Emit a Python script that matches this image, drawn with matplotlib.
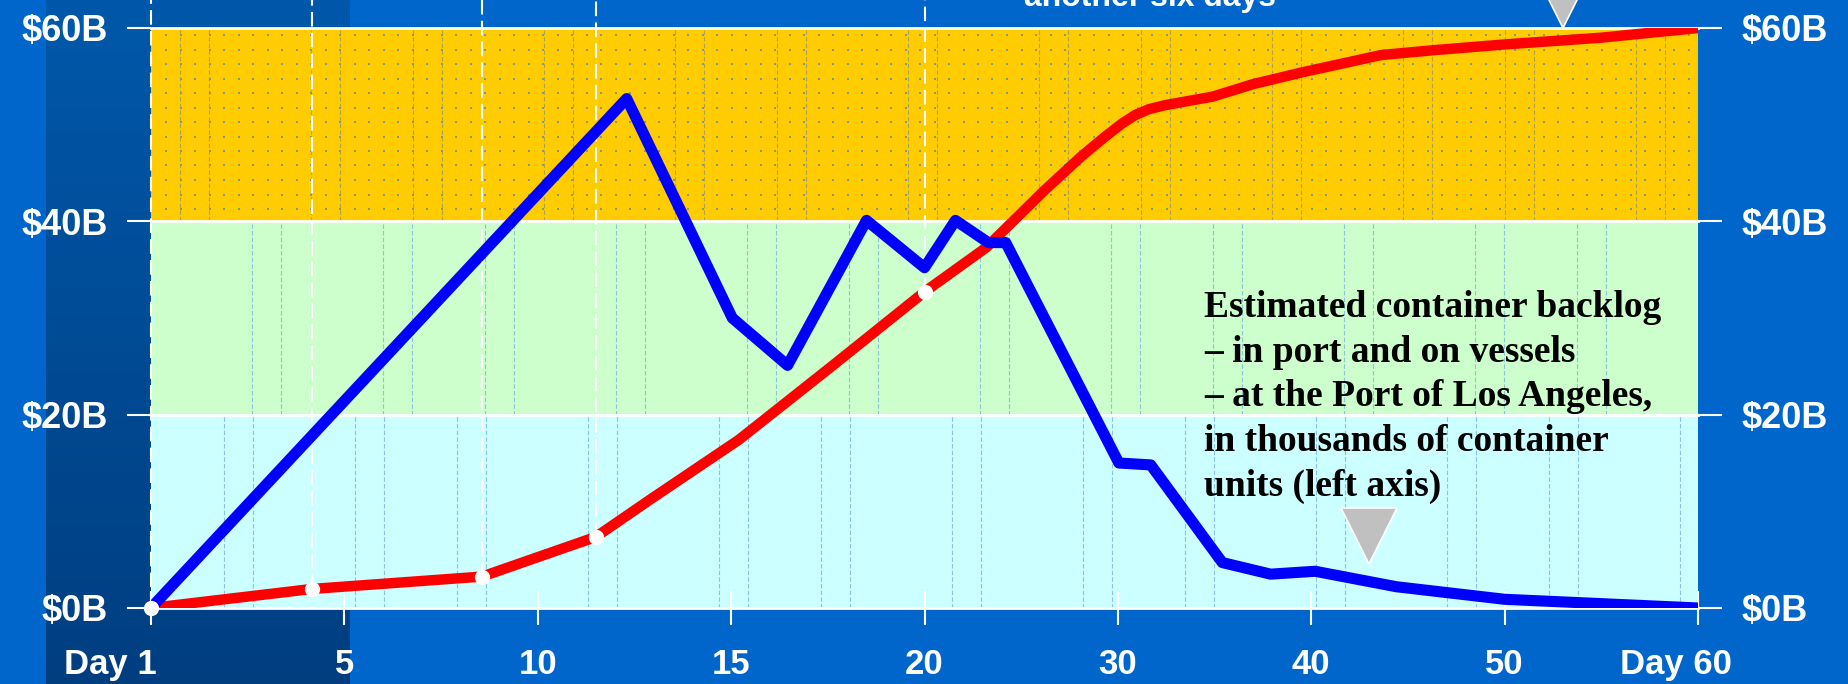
import numpy as np
import matplotlib
matplotlib.use("Agg")
import matplotlib.pyplot as plt
from matplotlib import transforms
from matplotlib.colors import LinearSegmentedColormap
from matplotlib.ticker import NullLocator

# x axis: ticks are evenly spaced although the day gaps are not
tick_days = [1, 5, 10, 15, 20, 30, 40, 50, 60]
tick_labels = ["Day 1", "5", "10", "15", "20", "30", "40", "50", "Day 60"]
tick_pos = np.arange(len(tick_days))

y_ticks = [0, 20, 40, 60]
y_labels = [r"\$0B", r"\$20B", r"\$40B", r"\$60B"]

# cumulative cost ($B), red line
cost_day = [1, 4.33, 8.56, 11.5, 12.9, 15.2, 17.6, 20.0, 23.2, 26.2, 28.1, 29.3,
            30.2, 30.9, 31.6, 32.4, 33.5, 34.9, 37.0, 39.5, 43.6, 46.3, 50, 55, 60]
cost_bn = [0, 1.97, 3.25, 7.35, 11.2, 17.4, 25.0, 32.7, 37.3, 43.2, 46.7, 48.7,
           50.1, 51.0, 51.6, 52.0, 52.4, 52.9, 54.2, 55.4, 57.2, 57.7, 58.3, 59.0, 60.0]

# container backlog (left axis), blue line
backlog_day = [1, 12.3, 15.03, 16.46, 18.5, 20.0, 21.6, 23.3, 24.2, 30.05, 31.7,
               35.4, 37.9, 40.2, 44.4, 50, 60]
backlog_val = [0, 52.7, 30.0, 25.1, 40.1, 35.2, 40.1, 37.8, 37.8, 15.0, 14.8,
               4.7, 3.5, 3.8, 2.2, 0.9, 0.0]

# white event markers on the cost line
event_day = [1, 4.33, 8.56, 11.5, 20.0]
event_bn = [0, 1.97, 3.25, 7.35, 32.7]

# grey pointer triangles
tri_day = [43.0, 53.0]
tri_val = [7.45, 62.9]

bands = [(0, 20, "#CCFFFF"), (20, 40, "#CCFFCC"), (40, 60, "#FFCC00")]

note = ("Estimated container backlog\n"
        "\u2013 in port and on vessels\n"
        "\u2013 at the Port of Los Angeles,\n"
        "in thousands of container\n"
        "units (left axis)")

plt.rcParams["font.family"] = ["Liberation Sans", "DejaVu Sans"]
plt.rcParams["font.weight"] = "bold"

W, H = 1849, 684
fig = plt.figure(figsize=(W / 100, H / 100), dpi=100, facecolor="#0066CC")

# darker strip behind the left part
strip = fig.add_axes([46 / W, 0, (350 - 46) / W, 1], zorder=0)
grad = np.linspace(0, 1, 256).reshape(-1, 1)
strip.imshow(grad, aspect="auto", extent=[0, 1, 0, 1],
             cmap=LinearSegmentedColormap.from_list("strip", ["#0058AA", "#003E80"]))
strip.axis("off")

ax = fig.add_axes([151 / W, (H - 608) / H, 1547 / W, 580 / H], zorder=1)
ax.set_facecolor("none")


def fwd(d):
    return np.interp(d, tick_days, tick_pos)


def inv(p):
    return np.interp(p, tick_pos, tick_days)


ax.set_xscale("function", functions=(fwd, inv))
ax.set_xlim(1, 60)
ax.set_ylim(0, 60)

for lo, hi, c in bands:
    ax.axhspan(lo, hi, color=c, lw=0, zorder=0)

# thin dashed column lines inside the bands
trans = transforms.blended_transform_factory(ax.transAxes, ax.transData)
for base, (lo, hi, c), lc in zip([224, 252, 180], bands, ["#8CC4E0", "#8CC4D8", "#B0A250"]):
    px = np.array([base + k * 364 + off + p for k in range(6)
                   for off in (0, 131, 233) for p in (0, 29)])
    px = px[(px > 153) & (px < 1696)]
    ax.vlines((px - 151) / 1547, lo, hi, transform=trans, colors=lc,
              lw=0.8, linestyles=(0, (4, 2)), zorder=1)

# dotted texture in the top band
gx, gy = np.meshgrid(np.arange(166, 1698, 14.5), np.arange(35, 221, 14.5))
ax.scatter(((gx - 151) / 1547).ravel(), ((608 - gy) / 580).ravel(), s=1.5,
           marker="s", color="#7F9A8A", lw=0, transform=ax.transAxes, zorder=1)

for y in y_ticks:
    ax.axhline(y, color="white", lw=2, zorder=2, clip_on=False)

ax.vlines(event_day, event_bn, 66, colors="white", lw=1.5,
          linestyles=(0, (7, 3)), clip_on=False, zorder=3)

ax.plot(cost_day, cost_bn, color="#FF0000", lw=7.5, solid_capstyle="butt", zorder=4)
ax.plot(backlog_day, backlog_val, color="#0000FF", lw=8, solid_capstyle="butt", zorder=5)
ax.plot(event_day, event_bn, "o", color="white", ms=11, mew=0, clip_on=False, zorder=6)
ax.plot(tri_day, tri_val, "v", ms=40, mfc="#C0C0C0", mec="white", mew=1.2,
        ls="none", clip_on=False, zorder=7)

for s in ax.spines.values():
    s.set_visible(False)

ax.set_xticks(tick_days)
ax.set_xticklabels(tick_labels)
ax.xaxis.set_minor_locator(NullLocator())
ax.tick_params(axis="x", direction="inout", length=24, width=1.5, color="white",
               labelcolor="white", labelsize=25, pad=17)
ax.set_yticks(y_ticks)
ax.set_yticklabels(y_labels)
ax.tick_params(axis="y", direction="out", length=17, width=1.5, color="white",
               labelcolor="white", labelsize=26, pad=14,
               left=True, right=True, labelleft=True, labelright=True)

xl = ax.get_xticklabels()
xl[0].set_ha("right")
xl[0].set_transform(xl[0].get_transform() + transforms.ScaledTranslation(0.06, 0, fig.dpi_scale_trans))
xl[-1].set_transform(xl[-1].get_transform() + transforms.ScaledTranslation(-0.22, 0, fig.dpi_scale_trans))

fig.text(1150 / W, 1 - 6 / H, "another six days", color="white", fontsize=23,
         fontweight="bold", ha="center", va="baseline")
fig.text(1204 / W, 1 - 290 / H, note, family=["Liberation Serif", "DejaVu Serif"],
         fontweight="bold", fontsize=27, color="black", ha="left", va="top",
         linespacing=1.36, zorder=8)

fig.savefig("out.png", dpi=100, facecolor=fig.get_facecolor())
